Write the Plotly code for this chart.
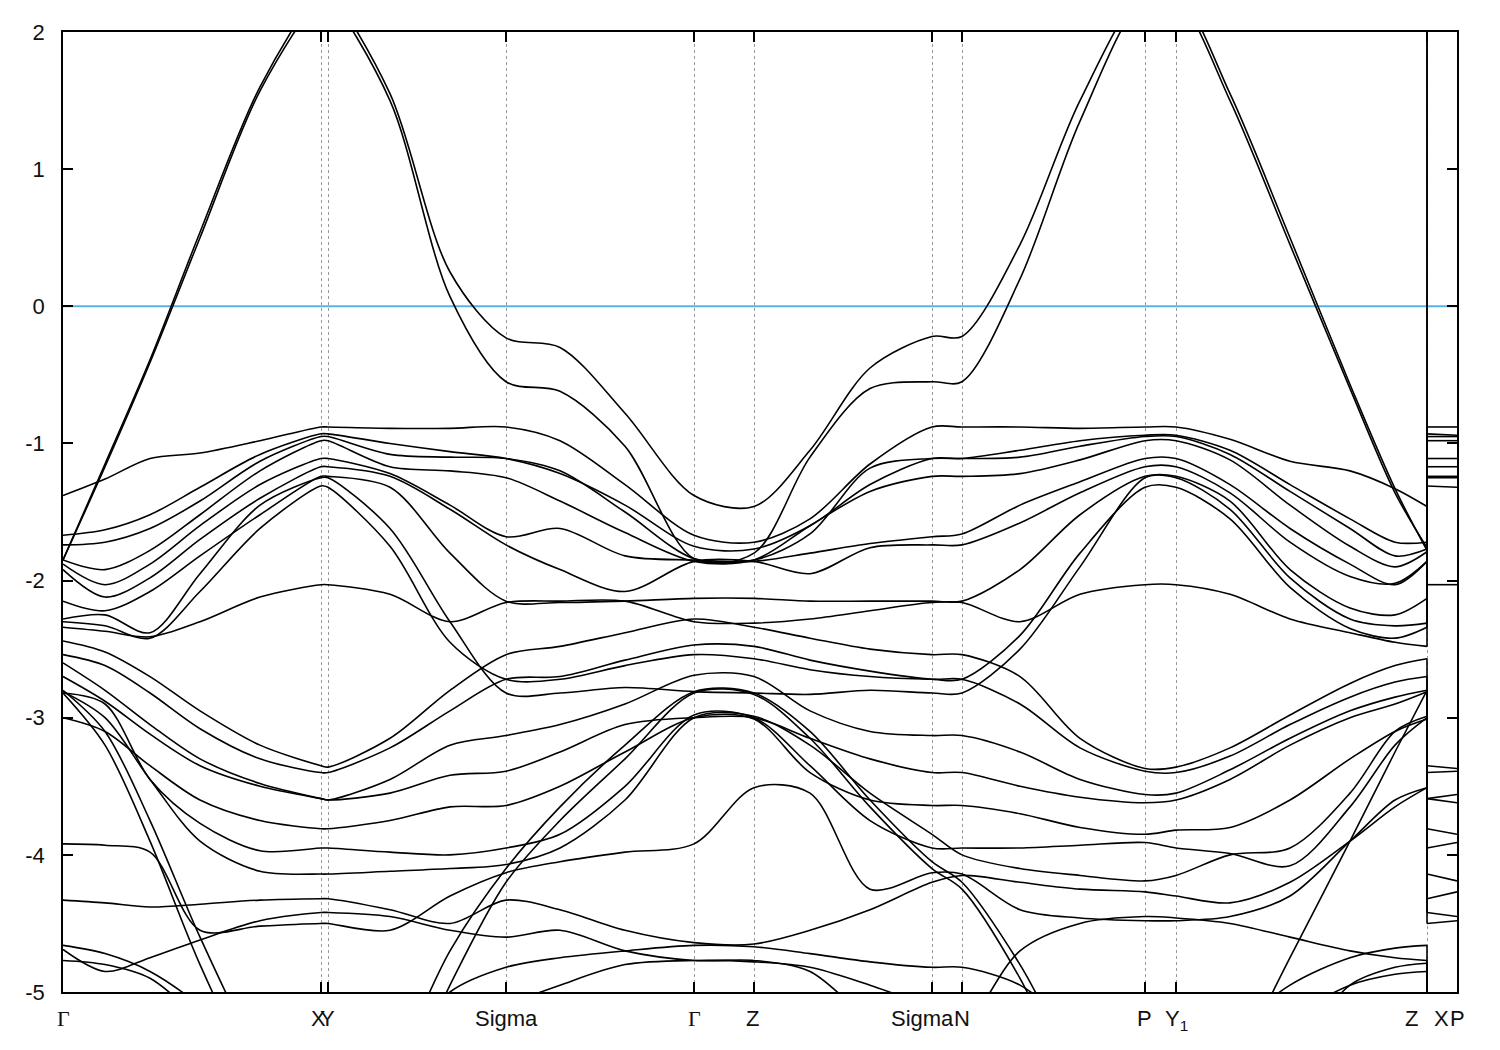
import plotly.graph_objects as go

# ---------------- data ----------------
# k-path distance of sampled nodes: Γ .. X Y .. Σ .. Γ Z .. Σ N .. P Y1 .. Z
k_nodes = [0.000, 0.042, 0.087, 0.137, 0.197, 0.258, 0.265, 0.327, 0.387, 0.443,
           0.497, 0.562, 0.631, 0.691, 0.747, 0.807, 0.869, 0.899, 0.957, 1.017,
           1.082, 1.113, 1.167, 1.227, 1.287, 1.332, 1.364]
IDX_X = 5      # node index of X
IDX_P = 20     # node index of P
k_stub_start = 1.364   # Z|X discontinuity
k_stub_end = 1.394     # P (end of path)

# high-symmetry ticks
hs_k = [0.000, 0.258, 0.265, 0.443, 0.631, 0.691, 0.869, 0.899, 1.082, 1.113, 1.364, 1.394]
label_text = ["Γ", "X", "Y", "Sigma", "Γ", "Z", "Sigma", "N", "P", "Y<sub>1</sub>", "Z", "X", "P"]
label_k = [0.000, 0.258, 0.265, 0.443, 0.631, 0.691, 0.869, 0.899, 1.082, 1.113, 1.364, 1.364, 1.394]

fermi_level = 0.0
y_ticks = [-5, -4, -3, -2, -1, 0, 1, 2]

A1 = [-1.85,-1.15,-0.39,0.54,1.60,2.30,2.30,1.55,0.25,-0.23,-0.30,-0.78,-1.38,-1.46,-1.05,-0.45,-0.22,-0.22,0.45,1.50,2.30,2.30,1.55,0.50,-0.57,-1.33,-1.78]
A2 = [-1.85,-1.17,-0.41,0.50,1.57,2.25,2.25,1.50,0.07,-0.55,-0.62,-1.02,-1.84,-1.80,-1.10,-0.60,-0.55,-0.55,0.20,1.35,2.25,2.25,1.50,0.45,-0.60,-1.36,-1.76]
F1 = [-1.38,-1.26,-1.11,-1.07,-0.98,-0.88,-0.88,-0.89,-0.89,-0.88,-0.98,-1.30,-1.67,-1.72,-1.55,-1.15,-0.88,-0.88,-0.88,-0.89,-0.88,-0.88,-0.97,-1.13,-1.20,-1.33,-1.46]
U2 = [-1.67,-1.63,-1.52,-1.32,-1.08,-0.93,-0.93,-1.00,-1.06,-1.11,-1.22,-1.45,-1.75,-1.77,-1.60,-1.30,-1.11,-1.11,-1.05,-0.98,-0.94,-0.94,-1.05,-1.30,-1.55,-1.72,-1.72]
U3 = [-1.74,-1.72,-1.62,-1.42,-1.13,-0.95,-0.95,-1.08,-1.10,-1.11,-1.20,-1.50,-1.84,-1.85,-1.66,-1.18,-1.11,-1.11,-1.10,-1.02,-0.95,-0.95,-1.08,-1.35,-1.62,-1.82,-1.77]
U4 = [-1.85,-1.92,-1.78,-1.52,-1.20,-0.98,-0.98,-1.17,-1.20,-1.25,-1.42,-1.65,-1.86,-1.85,-1.60,-1.35,-1.24,-1.24,-1.22,-1.12,-0.98,-0.98,-1.12,-1.45,-1.75,-1.90,-1.79]
U5 = [-1.88,-2.03,-1.88,-1.60,-1.30,-1.11,-1.11,-1.22,-1.45,-1.68,-1.62,-1.82,-1.85,-1.86,-1.80,-1.73,-1.68,-1.66,-1.45,-1.28,-1.11,-1.11,-1.30,-1.62,-1.88,-2.03,-1.86]
U6 = [-1.92,-2.12,-1.98,-1.70,-1.40,-1.17,-1.17,-1.24,-1.48,-1.74,-1.92,-2.08,-1.86,-1.86,-1.95,-1.76,-1.74,-1.74,-1.58,-1.36,-1.17,-1.17,-1.36,-1.72,-1.97,-2.02,-1.86]
U7 = [-2.15,-2.22,-2.08,-1.82,-1.52,-1.24,-1.24,-1.32,-1.80,-2.15,-2.16,-2.15,-2.13,-2.13,-2.15,-2.15,-2.15,-2.15,-1.92,-1.52,-1.24,-1.24,-1.42,-1.92,-2.20,-2.25,-2.13]
U8 = [-2.28,-2.25,-2.38,-1.95,-1.45,-1.25,-1.25,-1.62,-2.30,-2.82,-2.82,-2.78,-2.81,-2.82,-2.83,-2.80,-2.82,-2.82,-2.50,-1.90,-1.25,-1.25,-1.48,-1.98,-2.28,-2.33,-2.31]
U9 = [-2.30,-2.33,-2.42,-2.08,-1.62,-1.31,-1.32,-1.75,-2.45,-2.72,-2.72,-2.62,-2.54,-2.57,-2.65,-2.70,-2.72,-2.72,-2.40,-1.80,-1.32,-1.32,-1.55,-2.05,-2.35,-2.42,-2.34]
L0 = [-2.34,-2.37,-2.41,-2.30,-2.12,-2.03,-2.03,-2.10,-2.30,-2.16,-2.15,-2.15,-2.30,-2.31,-2.28,-2.22,-2.16,-2.16,-2.30,-2.10,-2.03,-2.03,-2.10,-2.28,-2.38,-2.45,-2.48]
LB1 = [-2.44,-2.52,-2.70,-2.95,-3.20,-3.35,-3.36,-3.15,-2.80,-2.54,-2.48,-2.38,-2.28,-2.34,-2.42,-2.50,-2.54,-2.54,-2.70,-3.15,-3.37,-3.36,-3.22,-2.98,-2.75,-2.62,-2.57]
LB2 = [-2.54,-2.62,-2.82,-3.08,-3.30,-3.40,-3.40,-3.22,-2.95,-2.72,-2.70,-2.58,-2.47,-2.48,-2.58,-2.66,-2.72,-2.72,-2.90,-3.22,-3.39,-3.40,-3.28,-3.05,-2.85,-2.74,-2.70]
LB3 = [-2.60,-2.80,-3.05,-3.30,-3.48,-3.59,-3.60,-3.45,-3.20,-3.13,-3.05,-2.90,-2.69,-2.70,-2.95,-3.10,-3.13,-3.13,-3.25,-3.45,-3.56,-3.55,-3.38,-3.15,-2.95,-2.85,-2.80]
LB4 = [-2.70,-2.88,-3.12,-3.35,-3.50,-3.59,-3.60,-3.55,-3.42,-3.39,-3.25,-3.05,-3.00,-3.00,-3.15,-3.30,-3.40,-3.40,-3.50,-3.58,-3.62,-3.60,-3.45,-3.20,-3.00,-2.90,-2.81]
LB5 = [-3.00,-3.10,-3.35,-3.60,-3.75,-3.81,-3.81,-3.75,-3.65,-3.64,-3.50,-3.25,-3.00,-3.01,-3.40,-3.60,-3.64,-3.64,-3.70,-3.80,-3.85,-3.82,-3.80,-3.60,-3.30,-3.10,-3.01]
LB6 = [-2.82,-2.90,-3.45,-3.77,-3.97,-3.95,-3.95,-3.98,-4.00,-3.95,-3.85,-3.50,-2.98,-3.00,-3.35,-3.75,-3.95,-3.95,-3.95,-3.93,-3.91,-3.95,-3.99,-4.08,-3.65,-3.20,-3.00]
LB7 = [-2.81,-3.00,-3.45,-3.90,-4.12,-4.14,-4.14,-4.12,-4.10,-4.07,-3.95,-3.60,-3.00,-2.99,-3.20,-3.55,-3.85,-4.00,-4.10,-4.15,-4.19,-4.15,-4.00,-3.95,-3.55,-3.10,-2.99]
LB8 = [-4.33,-4.35,-4.38,-4.36,-4.33,-4.32,-4.32,-4.40,-4.50,-4.33,-4.40,-4.55,-4.64,-4.65,-4.55,-4.40,-4.20,-4.15,-4.20,-4.25,-4.27,-4.30,-4.35,-4.20,-3.90,-3.65,-3.51]
M1 = [-3.92,-3.93,-3.98,-4.55,-4.52,-4.50,-4.50,-4.55,-4.30,-4.13,-4.05,-3.98,-3.92,-3.51,-3.55,-4.25,-4.13,-4.14,-4.40,-4.46,-4.48,-4.48,-4.45,-4.30,-3.90,-3.60,-3.51]
B1 = [-4.69,-4.85,-4.75,-4.62,-4.48,-4.42,-4.42,-4.45,-4.55,-4.60,-4.55,-4.70,-4.77,-4.77,-4.85,-5.20,-5.40,-5.30,-4.70,-4.50,-4.45,-4.46,-4.50,-4.60,-4.70,-4.75,-4.77]
B2 = [-4.66,-4.72,-4.85,-5.10,-5.50,-5.80,-5.80,-5.50,-5.00,-4.82,-4.75,-4.70,-4.66,-4.67,-4.72,-4.78,-4.82,-4.82,-4.95,-5.30,-5.70,-5.70,-5.30,-4.95,-4.75,-4.68,-4.66]
B3 = [-4.77,-4.80,-4.90,-5.20,-5.60,-6.00,-6.00,-5.80,-5.30,-5.10,-4.95,-4.80,-4.77,-4.78,-4.82,-4.95,-5.10,-5.10,-5.30,-5.60,-6.00,-6.00,-5.60,-5.20,-4.95,-4.87,-4.85]
SB1 = [-2.80,-3.10,-3.75,-4.60,-5.50,-6.20,-6.20,-5.60,-4.70,-4.10,-3.65,-3.20,-2.81,-2.82,-3.10,-3.60,-4.05,-4.20,-4.80,-5.60,-6.20,-6.20,-5.60,-4.75,-3.90,-3.25,-2.80]
SB2 = [-2.82,-3.20,-3.90,-4.80,-5.70,-6.40,-6.40,-5.90,-4.95,-4.20,-3.75,-3.30,-2.82,-2.83,-3.15,-3.65,-4.10,-4.25,-4.90,-5.80,-6.40,-6.40,-6.00,-5.50,-4.95,-4.82,-4.79]

bands = [A1, A2, F1, U2, U3, U4, U5, U6, U7, U8, U9, L0,
         LB1, LB2, LB3, LB4, LB5, LB6, LB7, LB8, M1, B1, B2, B3, SB1, SB2]
for b in bands:
    assert len(b) == len(k_nodes), len(b)

# ---------------- style ----------------
BAND_COLOR = "black"
BAND_W = 1.6
FERMI_COLOR = "#56B4E9"
FONT = "Liberation Sans"
label_xshift = [0, -3, -1, 0, 0, -2, -10, 0, -1, 0, -16, 14, 0]

fig = go.Figure()

# Fermi level
fig.add_trace(go.Scatter(x=[0, k_stub_end], y=[fermi_level, fermi_level], mode="lines",
                         line=dict(color=FERMI_COLOR, width=2), hoverinfo="skip"))

# bands along the main path
for b in bands:
    fig.add_trace(go.Scatter(x=k_nodes, y=b, mode="lines",
                             line=dict(color=BAND_COLOR, width=BAND_W, shape="spline", smoothing=0.9),
                             hoverinfo="skip"))

# Z|X discontinuity: bands jump (sorted by energy) from Z to X
z_vals = sorted(b[-1] for b in bands)
x_vals = sorted(b[IDX_X] for b in bands)
for zv, xv in zip(z_vals, x_vals):
    fig.add_trace(go.Scatter(x=[k_stub_start, k_stub_start], y=[zv, xv], mode="lines",
                             line=dict(color=BAND_COLOR, width=BAND_W), hoverinfo="skip"))

# short X -> P segment
for b in bands:
    fig.add_trace(go.Scatter(x=[k_stub_start, k_stub_end], y=[b[IDX_X], b[IDX_P]], mode="lines",
                             line=dict(color=BAND_COLOR, width=BAND_W), hoverinfo="skip"))

# k-point labels
for txt, kk, dx in zip(label_text, label_k, label_xshift):
    fam = "Liberation Serif" if txt == "Γ" else FONT
    fig.add_annotation(x=kk, y=0, xref="x", yref="paper", text=txt, showarrow=False,
                       xanchor="center", yanchor="top", yshift=-12, xshift=dx,
                       font=dict(family=fam, size=22, color="#111111"))

fig.update_layout(
    width=1500, height=1050,
    margin=dict(l=55, r=51, t=20, b=66),
    paper_bgcolor="white", plot_bgcolor="white",
    showlegend=False,
    xaxis=dict(range=[0, k_stub_end], tickvals=hs_k, showticklabels=False,
               ticks="inside", ticklen=10, tickwidth=1.5, tickcolor="black",
               showline=True, linecolor="black", linewidth=1.5, mirror="ticks",
               showgrid=True, gridcolor="#9a9a9a", gridwidth=1, griddash="3px,3px",
               zeroline=False),
    yaxis=dict(range=[-5, 2], tickvals=y_ticks, ticktext=[str(t) for t in y_ticks],
               ticks="inside", ticklen=10, tickwidth=1.5, tickcolor="black",
               showline=True, linecolor="black", linewidth=1.5, mirror="ticks",
               showgrid=False, zeroline=False, ticklabelstandoff=12,
               tickfont=dict(family=FONT, size=22, color="#111111")),
)

fig.write_html("out.html")
